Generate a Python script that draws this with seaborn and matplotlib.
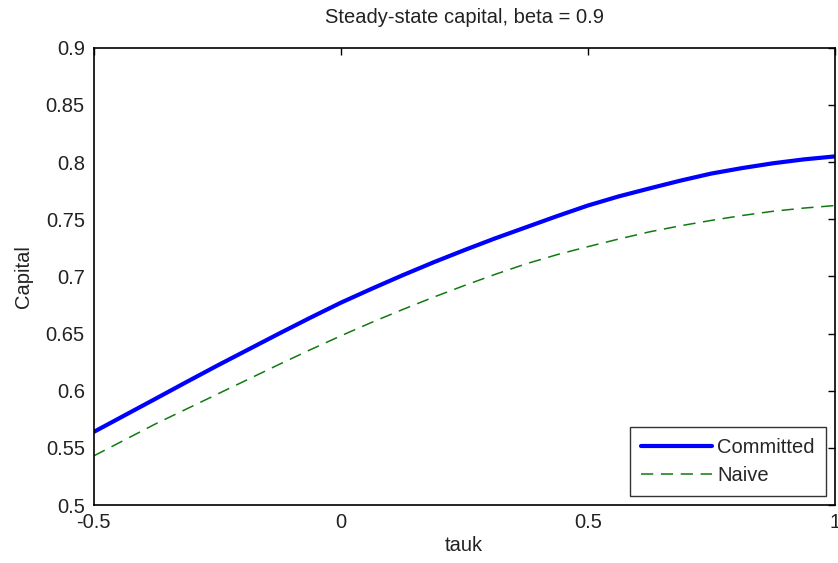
import matplotlib
matplotlib.use("Agg")
import matplotlib.pyplot as plt
import seaborn as sns

# tauk grid and steady-state capital
tauk = [-0.5, -0.4375, -0.375, -0.3125, -0.25, -0.1875, -0.125, -0.0625, 0.0,
        0.0625, 0.125, 0.1875, 0.25, 0.3125, 0.375, 0.4375, 0.5,
        0.5625, 0.625, 0.6875, 0.75, 0.8125, 0.875, 0.9375, 1.0]
committed = [0.564, 0.5785, 0.593, 0.6076, 0.622, 0.636, 0.650, 0.6637, 0.677,
             0.6892, 0.701, 0.7123, 0.723, 0.7333, 0.743, 0.7527, 0.762,
             0.770, 0.777, 0.7838, 0.790, 0.7948, 0.799, 0.8024, 0.805]
naive = [0.543, 0.557, 0.571, 0.584, 0.597, 0.610, 0.623, 0.6357, 0.648,
         0.6598, 0.671, 0.6818, 0.692, 0.7018, 0.711, 0.719, 0.726,
         0.7327, 0.739, 0.7443, 0.749, 0.7533, 0.757, 0.7598, 0.762]
xticks = [-0.5, 0, 0.5, 1]
yticks = [0.5, 0.55, 0.6, 0.65, 0.7, 0.75, 0.8, 0.85, 0.9]

sns.set_style("white")
plt.rcParams["font.family"] = ["Liberation Sans", "DejaVu Sans"]

fig = plt.figure(figsize=(8.38, 5.63), dpi=100)
ax = fig.add_axes([0.112, 0.103, 0.884, 0.812])

sns.lineplot(x=tauk, y=committed, ax=ax, color="#0000ff", lw=3.0, label="Committed")
sns.lineplot(x=tauk, y=naive, ax=ax, color="#107a10", lw=1.1, label="Naive")
ax.lines[1].set_dashes([8, 5])

ax.set_xlim(-0.5, 1)
ax.set_ylim(0.5, 0.9)
ax.set_xticks(xticks)
ax.set_xticklabels(["-0.5", "0", "0.5", "1"])
ax.set_yticks(yticks)
ax.set_yticklabels(["0.5", "0.55", "0.6", "0.65", "0.7", "0.75", "0.8", "0.85", "0.9"])
ax.tick_params(direction="in", top=True, right=True, length=5, width=1,
               labelsize=14.5, color="black", labelcolor="#222222")
ax.tick_params(axis="x", pad=5.5)
ax.tick_params(axis="y", pad=6.5)
for s in ax.spines.values():
    s.set_color("black")
    s.set_linewidth(1.2)

ax.set_title("Steady-state capital, beta = 0.9", fontsize=14.5, pad=18, color="#222222")
ax.set_xlabel("tauk", fontsize=14.5, labelpad=3, color="#222222")
ax.set_ylabel("Capital", fontsize=14.5, labelpad=9, color="#222222")

leg = ax.legend(loc="lower right", fontsize=14.5, frameon=True, fancybox=False,
                edgecolor="black", handlelength=3.5, handletextpad=0.25,
                borderaxespad=0.45, borderpad=0.55, labelspacing=0.45)
leg.get_frame().set_linewidth(1.0)

fig.savefig("out.png", dpi=100)
